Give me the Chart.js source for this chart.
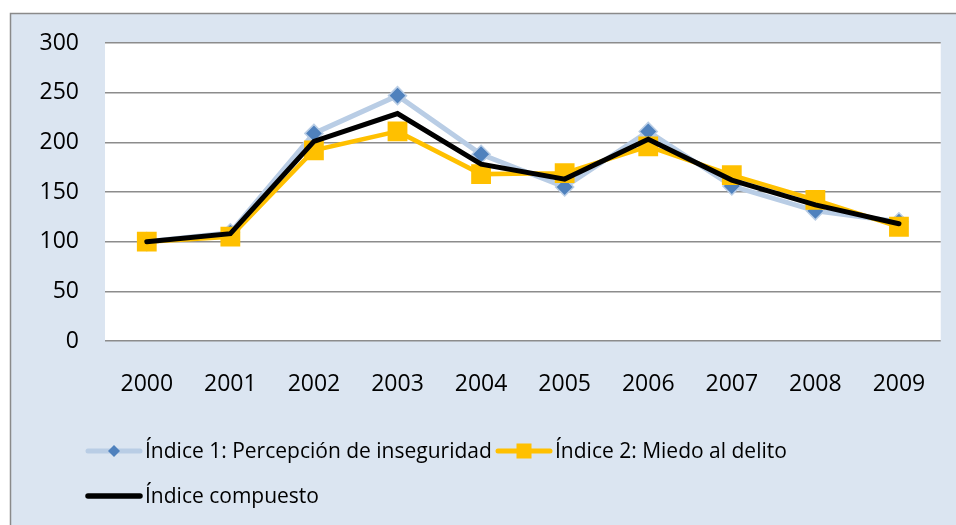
<!DOCTYPE html>
<html>
<head>
<meta charset="utf-8">
<script src="https://cdn.jsdelivr.net/npm/chart.js@4.4.1/dist/chart.umd.min.js"></script>
<style>
  html, body { margin: 0; padding: 0; background: #ffffff; }
  #wrap { width: 956px; height: 525px; position: relative; }
</style>
</head>
<body>
<div id="wrap"><canvas id="c" width="956" height="525"></canvas></div>
<script>
const years = ['2000', '2001', '2002', '2003', '2004', '2005', '2006', '2007', '2008', '2009'];
const seriesNames = ['Índice 1: Percepción de inseguridad', 'Índice 2: Miedo al delito', 'Índice compuesto'];
const indice1 = [100, 109, 209, 247, 188, 155, 211, 156, 131, 120];
const indice2 = [100, 105, 192, 211, 168, 169, 196, 167, 142, 115];
const compuesto = [100, 108, 201, 229, 178, 163, 203, 162, 137, 118];
const yTicks = [0, 50, 100, 150, 200, 250, 300];

const FONT = "'Open Sans', 'Noto Sans', sans-serif";

const bgPlugin = {
  id: 'bg',
  beforeDraw(chart) {
    const ctx = chart.ctx;
    const a = chart.chartArea;
    ctx.save();
    ctx.fillStyle = '#ffffff';
    ctx.fillRect(0, 0, chart.width, chart.height);
    ctx.fillStyle = '#DBE5F1';
    ctx.fillRect(10, 13, chart.width, chart.height);
    ctx.strokeStyle = '#8a8a8a';
    ctx.lineWidth = 1.5;
    ctx.beginPath();
    ctx.moveTo(10.5, chart.height + 5);
    ctx.lineTo(10.5, 13.5);
    ctx.lineTo(chart.width + 5, 13.5);
    ctx.stroke();
    ctx.fillStyle = '#ffffff';
    ctx.fillRect(a.left, a.top, a.right - a.left, a.bottom - a.top);
    ctx.restore();
  }
};

function drawLegendItem(ctx, ds, x1, x2, y, textX, label) {
  ctx.save();
  ctx.lineCap = 'round';
  ctx.strokeStyle = ds.borderColor;
  ctx.lineWidth = ds.legendLineWidth;
  ctx.beginPath();
  ctx.moveTo(x1, y);
  ctx.lineTo(x2, y);
  ctx.stroke();
  const cx = (x1 + x2) / 2;
  if (ds.legendMarker === 'diamond') {
    const r = 6;
    ctx.fillStyle = ds.pointBackgroundColor;
    ctx.beginPath();
    ctx.moveTo(cx, y - r);
    ctx.lineTo(cx + r, y);
    ctx.lineTo(cx, y + r);
    ctx.lineTo(cx - r, y);
    ctx.closePath();
    ctx.fill();
  } else if (ds.legendMarker === 'square') {
    const h = 7.5;
    ctx.fillStyle = ds.pointBackgroundColor;
    ctx.fillRect(cx - h, y - h, 2 * h, 2 * h);
  }
  ctx.fillStyle = '#000000';
  ctx.font = "21px " + FONT;
  ctx.textBaseline = 'middle';
  ctx.textAlign = 'left';
  ctx.fillText(label, textX, y + 1);
  ctx.restore();
}

const legendPlugin = {
  id: 'customLegend',
  afterDraw(chart) {
    const ctx = chart.ctx;
    const d = chart.data.datasets;
    drawLegendItem(ctx, d[0], 88, 140, 451, 145, d[0].label);
    drawLegendItem(ctx, d[1], 498, 550, 451, 555, d[1].label);
    drawLegendItem(ctx, d[2], 88, 140, 496, 145, d[2].label);
  }
};

new Chart(document.getElementById('c'), {
  type: 'line',
  data: {
    labels: years,
    datasets: [
      {
        label: seriesNames[0],
        data: indice1,
        borderColor: '#B9CDE5',
        borderWidth: 5,
        pointStyle: 'rectRot',
        pointRadius: 9,
        pointHoverRadius: 9,
        pointBackgroundColor: '#4F81BD',
        pointBorderColor: '#B9CDE5',
        pointBorderWidth: 1.5,
        tension: 0,
        order: 3,
        legendLineWidth: 5,
        legendMarker: 'diamond'
      },
      {
        label: seriesNames[1],
        data: indice2,
        borderColor: '#FFC000',
        borderWidth: 4.5,
        pointStyle: 'rect',
        pointRadius: 14,
        pointHoverRadius: 14,
        pointBackgroundColor: '#FFC000',
        pointBorderColor: '#FFC000',
        pointBorderWidth: 0,
        tension: 0,
        order: 2,
        legendLineWidth: 5,
        legendMarker: 'square'
      },
      {
        label: seriesNames[2],
        data: compuesto,
        borderColor: '#000000',
        borderWidth: 5,
        pointRadius: 0,
        pointHoverRadius: 0,
        borderCapStyle: 'round',
        borderJoinStyle: 'miter',
        tension: 0,
        order: 1,
        legendLineWidth: 5.5,
        legendMarker: 'none'
      }
    ]
  },
  options: {
    responsive: false,
    animation: false,
    events: [],
    layout: { padding: { left: 10, top: 43, right: 15, bottom: 0 } },
    plugins: {
      legend: { display: false },
      tooltip: { enabled: false },
      title: { display: false }
    },
    scales: {
      x: {
        type: 'category',
        offset: true,
        grid: { display: false, drawTicks: false },
        border: { display: false },
        ticks: {
          color: '#000000',
          font: { family: FONT, size: 23 },
          padding: 30,
          maxRotation: 0,
          autoSkip: false
        },
        afterFit(s) { s.height = 184; }
      },
      y: {
        min: 0,
        max: 300,
        afterBuildTicks(s) { s.ticks = yTicks.map(v => ({ value: v })); },
        grid: { color: '#8c8c8c', lineWidth: 1.5, drawTicks: false },
        border: { display: false },
        ticks: {
          color: '#000000',
          font: { family: FONT, size: 23 },
          padding: 26
        },
        afterFit(s) { s.width = 95; }
      }
    }
  },
  plugins: [bgPlugin, legendPlugin]
});
</script>
</body>
</html>
